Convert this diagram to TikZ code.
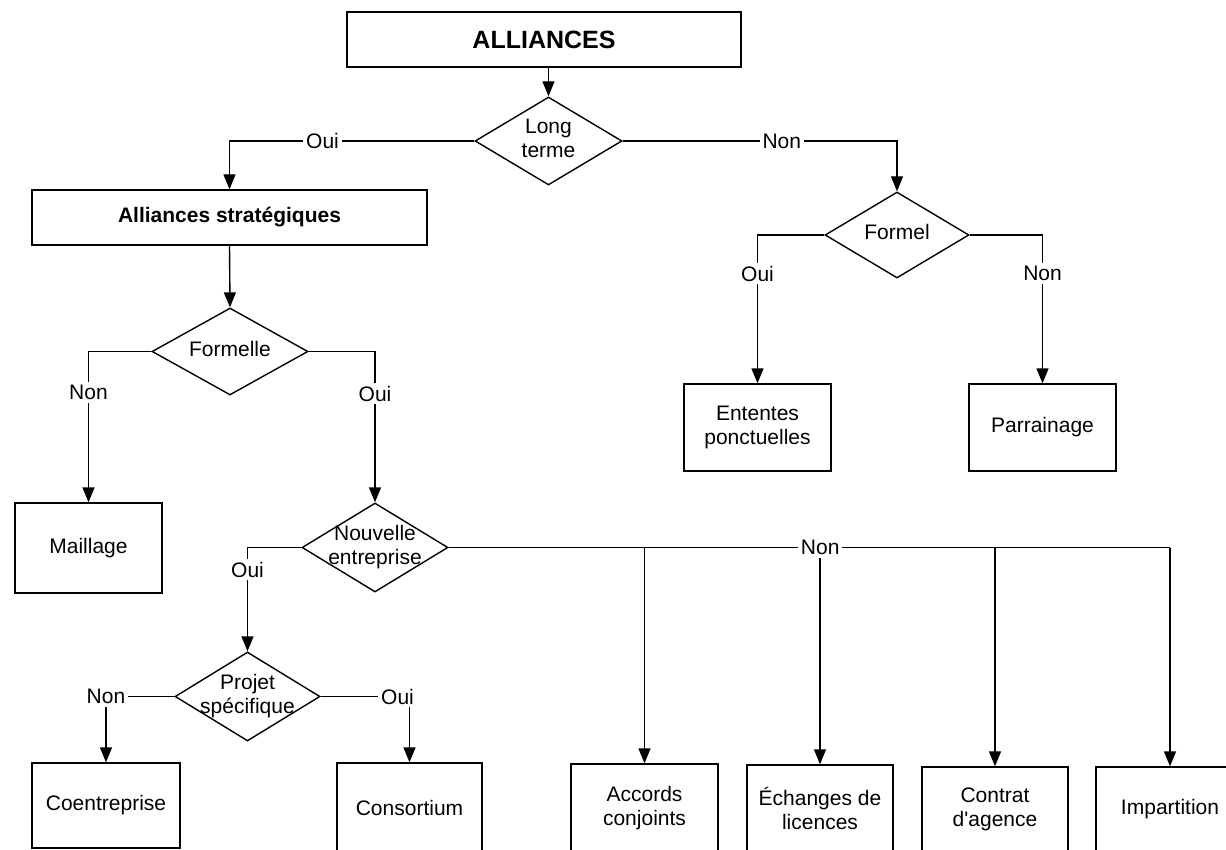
\documentclass[tikz,border=0pt]{standalone}
\usepackage{fontspec}
\setmainfont{Liberation Sans}
\usetikzlibrary{shapes.geometric,arrows.meta}
\tikzstyle{box}=[draw=black,line width=0.7pt,align=center,inner sep=0pt]
\tikzstyle{decision}=[draw=black,line width=0.7pt,diamond,inner sep=0pt]
\tikzstyle{lbl}=[fill=white,inner sep=1.5pt]
\tikzstyle{arr}=[line width=0.7pt,-{Triangle[length=7.5pt,width=6pt]}]
\newcommand{\dtxt}[1]{\makebox[0pt]{\begin{tabular}{@{}c@{}}#1\end{tabular}}}

\begin{document}
\begin{tikzpicture}[x=0.5pt, y=-0.5pt, font=\fontsize{10.5}{11.8}\selectfont]
\useasboundingbox (0,0) rectangle (1226,850);
%boxes and decisions
\node[box, minimum width=197pt, minimum height=27.5pt] (alliances) at (544,39.5) {\fontsize{12.5}{14}\selectfont\bfseries ALLIANCES};
\node[decision, minimum width=73.5pt, minimum height=44pt] (lt) at (548.5,141) {\dtxt{Long\\terme}};
\node[box, minimum width=197.5pt, minimum height=27.5pt] (strat) at (229.5,217.5) {\bfseries Alliances stratégiques};
\node[decision, minimum width=72pt, minimum height=43pt] (formel) at (897,235) {\dtxt{Formel}};
\node[decision, minimum width=78pt, minimum height=43.5pt] (formelle) at (230,351.5) {\dtxt{Formelle}};
\node[box, minimum width=73.5pt, minimum height=43.5pt] (ententes) at (757.5,427.5) {Ententes\\ponctuelles};
\node[box, minimum width=73.5pt, minimum height=43.5pt] (parrainage) at (1042.5,427.5) {Parrainage};
\node[box, minimum width=73.5pt, minimum height=45pt] (maillage) at (88.5,548) {Maillage};
\node[decision, minimum width=73pt, minimum height=44.5pt] (ne) at (375,547.5) {\dtxt{Nouvelle\\entreprise}};
\node[decision, minimum width=72.5pt, minimum height=44.5pt] (projet) at (247.5,696.5) {\dtxt{Projet\\spécifique}};
\node[box, minimum width=74pt, minimum height=42.5pt] (coentreprise) at (106,805.5) {Coentreprise};
\node[box, minimum width=72.5pt, minimum height=44.5pt] (consortium) at (409.5,807.5) {Consortium};
\node[box, minimum width=73.5pt, minimum height=44pt] (accords) at (644.5,808) {Accords\\conjoints};
\node[box, minimum width=73pt, minimum height=43.5pt] (echanges) at (820,808.5) {Échanges de\\licences};
\node[box, minimum width=73pt, minimum height=42.5pt] (contrat) at (995,809.5) {Contrat\\d\textquotesingle agence};
\node[box, minimum width=74pt, minimum height=42.5pt] (impartition) at (1170,809.5) {Impartition};
%connectors
\draw[arr] (alliances.south -| lt.north) -- (lt.north);
\draw[arr] (lt.west) -| node[lbl, pos=0.31] {Oui} (strat.north);
\draw[arr] (lt.east) -| node[lbl, pos=0.29] {Non} (formel.north);
\draw[arr] (strat.south) -- (formelle.north);
\draw[arr] (formel.west) -| node[lbl, pos=0.63] {Oui} (ententes.north);
\draw[arr] (formel.east) -| node[lbl, pos=0.63] {Non} (parrainage.north);
\draw[arr] (formelle.west) -| node[lbl, pos=0.635] {Non} (maillage.north);
\draw[arr] (formelle.east) -| node[lbl, pos=0.64] {Oui} (ne.north);
\draw[arr] (ne.west) -| node[lbl, pos=0.606] {Oui} (projet.north);
\draw[arr] (projet.west) -| node[lbl, pos=0.5] {Non} (coentreprise.north);
\draw[arr] (projet.east) -| node[lbl, pos=0.5, xshift=-6pt] {Oui} (consortium.north);
\coordinate (nonend) at (ne.east -| impartition.north);
\foreach \b in {accords,echanges,contrat,impartition}
\draw[arr] (ne.east -| \b.north) -- (\b.north);
\draw[line width=0.7pt] (ne.east) -- node[lbl, pos=0.515] {Non} (nonend);
\end{tikzpicture}
\end{document}
